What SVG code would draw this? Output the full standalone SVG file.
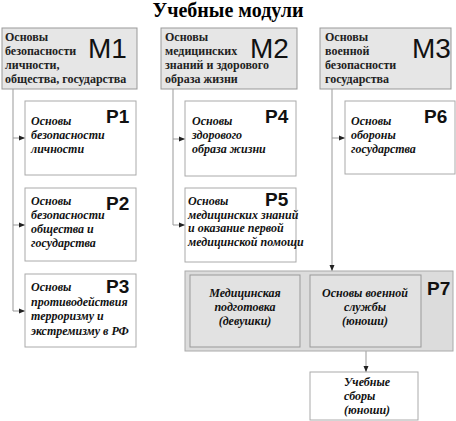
<svg xmlns="http://www.w3.org/2000/svg" width="456" height="421" viewBox="0 0 456 421">
<defs>
<style>
.title{font-family:"Liberation Serif",serif;font-weight:bold;font-size:20px;fill:#000}
.mbox{fill:#e6e6e6;stroke:#999;stroke-width:1}
.pbox{fill:#fff;stroke:#aaa;stroke-width:1}
.gbox{fill:#dcdcdc;stroke:#aaa;stroke-width:1}
.ibox{fill:#e2e2e2;stroke:#999;stroke-width:1}
.mt{font-family:"Liberation Serif",serif;font-weight:bold;font-size:12px;fill:#222}
.pt{font-family:"Liberation Serif",serif;font-weight:bold;font-style:italic;font-size:12px;fill:#111}
.ml{font-family:"Liberation Sans",Arial,sans-serif;font-size:28px;fill:#111}
.pl{font-family:"Liberation Sans",Arial,sans-serif;font-weight:bold;font-size:19px;fill:#111}
.c{fill:none;stroke:#999;stroke-width:1}
</style>
<marker id="ah" viewBox="0 0 6 6" refX="6" refY="3" markerWidth="6" markerHeight="6" orient="auto" markerUnits="userSpaceOnUse">
<path d="M0,0.5 L6,3 L0,5.5 Z" fill="#222"/>
</marker>
</defs>
<rect width="456" height="421" fill="#fff"/>
<text class="title" x="228" y="17" text-anchor="middle">Учебные модули</text>

<g id="connectors">
<path class="c" d="M13,89 V311 H25" marker-end="url(#ah)"/>
<path class="c" d="M13,138 H25" marker-end="url(#ah)"/>
<path class="c" d="M13,225 H25" marker-end="url(#ah)"/>
<path class="c" d="M173,89 V225 H185" marker-end="url(#ah)"/>
<path class="c" d="M173,139 H185" marker-end="url(#ah)"/>
<path class="c" d="M332,89 V271" marker-end="url(#ah)"/>
<path class="c" d="M332,138 H345" marker-end="url(#ah)"/>
<path class="c" d="M366,347 V372" marker-end="url(#ah)"/>
</g>

<g id="M1">
<rect class="mbox" x="2" y="28" width="135" height="61"/>
<text class="mt"><tspan x="5" y="41">Основы</tspan><tspan x="5" y="55">безопасности</tspan><tspan x="5" y="69">личности,</tspan><tspan x="5" y="83">общества, государства</tspan></text>
<text class="ml" x="88" y="58">M1</text>
</g>
<g id="M2">
<rect class="mbox" x="161" y="28" width="136" height="61"/>
<text class="mt"><tspan x="165" y="41">Основы</tspan><tspan x="165" y="55">медицинских</tspan><tspan x="165" y="69">знаний и здорового</tspan><tspan x="165" y="83">образа жизни</tspan></text>
<text class="ml" x="250" y="58">M2</text>
</g>
<g id="M3">
<rect class="mbox" x="320" y="28" width="131" height="61"/>
<text class="mt"><tspan x="325" y="41">Основы</tspan><tspan x="325" y="55">военной</tspan><tspan x="325" y="69">безопасности</tspan><tspan x="325" y="83">государства</tspan></text>
<text class="ml" x="412" y="58">M3</text>
</g>

<g id="P1">
<rect class="pbox" x="25" y="101" width="111" height="74"/>
<text class="pt"><tspan x="31" y="125">Основы</tspan><tspan x="31" y="139">безопасности</tspan><tspan x="31" y="153">личности</tspan></text>
<text class="pl" x="106" y="123">P1</text>
</g>
<g id="P2">
<rect class="pbox" x="25" y="188" width="111" height="73"/>
<text class="pt"><tspan x="31" y="205">Основы</tspan><tspan x="31" y="219">безопасности</tspan><tspan x="31" y="233">общества и</tspan><tspan x="31" y="247">государства</tspan></text>
<text class="pl" x="106" y="210">P2</text>
</g>
<g id="P3">
<rect class="pbox" x="25" y="274" width="111" height="73"/>
<text class="pt"><tspan x="31" y="291">Основы</tspan><tspan x="31" y="306">противодействия</tspan><tspan x="31" y="320">терроризму и</tspan><tspan x="31" y="335">экстремизму в РФ</tspan></text>
<text class="pl" x="106" y="293">P3</text>
</g>
<g id="P4">
<rect class="pbox" x="185" y="101" width="111" height="75"/>
<text class="pt"><tspan x="192" y="125">Основы</tspan><tspan x="192" y="139">здорового</tspan><tspan x="192" y="153">образа жизни</tspan></text>
<text class="pl" x="265" y="123">P4</text>
</g>
<g id="P5">
<rect class="pbox" x="185" y="188" width="111" height="74"/>
<text class="pt"><tspan x="188" y="205">Основы</tspan><tspan x="188" y="219">медицинских знаний</tspan><tspan x="188" y="232">и оказание первой</tspan><tspan x="188" y="246">медицинской помощи</tspan></text>
<text class="pl" x="265" y="206">P5</text>
</g>
<g id="P6">
<rect class="pbox" x="345" y="101" width="110" height="73"/>
<text class="pt"><tspan x="351" y="125">Основы</tspan><tspan x="351" y="139">обороны</tspan><tspan x="351" y="153">государства</tspan></text>
<text class="pl" x="424" y="123">P6</text>
</g>
<g id="P7">
<rect class="gbox" x="185" y="271" width="268" height="80"/>
<text class="pl" x="427" y="295">P7</text>
<g id="P7a">
<rect class="ibox" x="190" y="275" width="110" height="72"/>
<text class="pt" text-anchor="middle"><tspan x="245" y="297">Медицинская</tspan><tspan x="245" y="311">подготовка</tspan><tspan x="245" y="325">(девушки)</tspan></text>
</g>
<g id="P7b">
<rect class="ibox" x="310" y="275" width="111" height="72"/>
<text class="pt" text-anchor="middle"><tspan x="365" y="297">Основы военной</tspan><tspan x="365" y="311">службы</tspan><tspan x="365" y="325">(юноши)</tspan></text>
</g>
</g>
<g id="S">
<rect class="pbox" x="310" y="372" width="108" height="48"/>
<text class="pt"><tspan x="344" y="386">Учебные</tspan><tspan x="344" y="400">сборы</tspan><tspan x="344" y="414">(юноши)</tspan></text>
</g>
</svg>
